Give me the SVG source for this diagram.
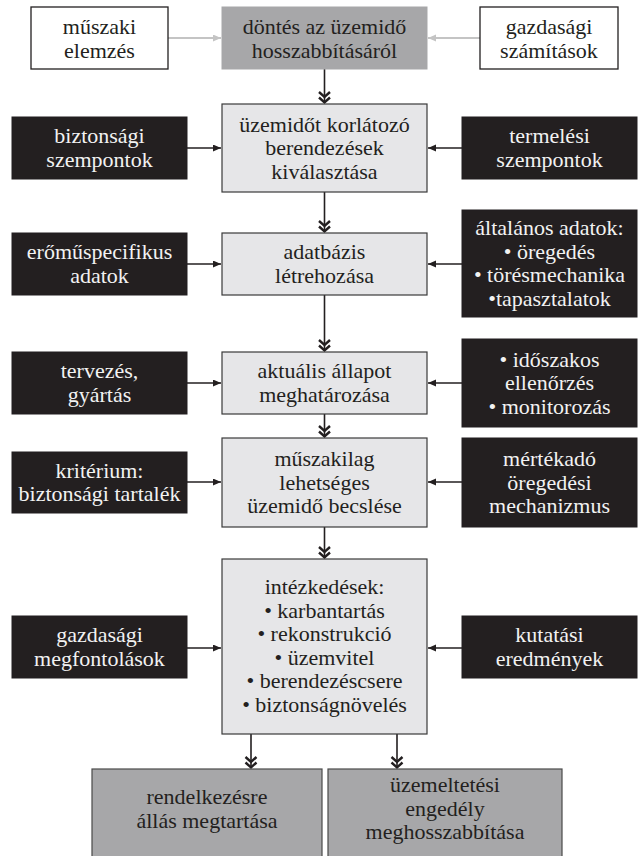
<svg xmlns="http://www.w3.org/2000/svg" width="641" height="856" viewBox="0 0 641 856" font-family="Liberation Serif">
<style>
text{font-family:"Liberation Serif",serif;font-size:22px;text-anchor:middle;fill:#231f20}
.blk rect{fill:#231f20;stroke:#231f20}
.blk text{fill:#f2f2f2}
.wht rect{fill:#fff;stroke:#231f20;stroke-width:1.3}
.lgt rect{fill:#e6e6e8;stroke:#3a3a3a;stroke-width:1.2}
.drk rect{fill:#a7a7a9;stroke:#a7a7a9}
.bot rect{fill:#a7a7a9;stroke:#4a4a4a;stroke-width:1.2}
.c{stroke:#231f20;stroke-width:1.6;fill:none}
.g{stroke:#c4c4c4;stroke-width:2;fill:none}
</style>
<defs>
<marker id="dbl" markerUnits="userSpaceOnUse" markerWidth="14" markerHeight="14" refX="12" refY="6.5" orient="auto" overflow="visible">
<path d="M1,1 L6,6.5 L1,12 M6.5,1 L11.5,6.5 L6.5,12" fill="none" stroke="#231f20" stroke-width="2.4"/>
</marker>
<marker id="tri" markerUnits="userSpaceOnUse" markerWidth="9" markerHeight="8" refX="8" refY="3.5" orient="auto">
<path d="M0,0 L8,3.5 L0,7 Z" fill="#231f20"/>
</marker>
<marker id="trig" markerUnits="userSpaceOnUse" markerWidth="9" markerHeight="8" refX="8" refY="3.5" orient="auto">
<path d="M0,0 L8,3.5 L0,7 Z" fill="#c4c4c4"/>
</marker>
</defs>

<g id="connectors">
<line class="g" x1="168" y1="38" x2="221" y2="38" marker-end="url(#trig)"/>
<line class="g" x1="480" y1="38" x2="428" y2="38" marker-end="url(#trig)"/>
<line class="c" x1="324.5" y1="69" x2="324.5" y2="103" marker-end="url(#dbl)"/>
<line class="c" x1="324.5" y1="192" x2="324.5" y2="232" marker-end="url(#dbl)"/>
<line class="c" x1="324.5" y1="295" x2="324.5" y2="351" marker-end="url(#dbl)"/>
<line class="c" x1="324.5" y1="414" x2="324.5" y2="437" marker-end="url(#dbl)"/>
<line class="c" x1="324.5" y1="527" x2="324.5" y2="558" marker-end="url(#dbl)"/>
<line class="c" x1="251" y1="734" x2="251" y2="768" marker-end="url(#dbl)"/>
<line class="c" x1="397" y1="734" x2="397" y2="768" marker-end="url(#dbl)"/>
<line class="c" x1="187" y1="148" x2="221" y2="148" marker-end="url(#tri)"/>
<line class="c" x1="462" y1="148" x2="428" y2="148" marker-end="url(#tri)"/>
<line class="c" x1="187" y1="264" x2="221" y2="264" marker-end="url(#tri)"/>
<line class="c" x1="462" y1="264" x2="428" y2="264" marker-end="url(#tri)"/>
<line class="c" x1="187" y1="383" x2="221" y2="383" marker-end="url(#tri)"/>
<line class="c" x1="462" y1="383" x2="428" y2="383" marker-end="url(#tri)"/>
<line class="c" x1="187" y1="482" x2="221" y2="482" marker-end="url(#tri)"/>
<line class="c" x1="462" y1="482" x2="428" y2="482" marker-end="url(#tri)"/>
<line class="c" x1="187" y1="648" x2="221" y2="648" marker-end="url(#tri)"/>
<line class="c" x1="462" y1="648" x2="428" y2="648" marker-end="url(#tri)"/>
</g>

<g id="n1" class="wht"><rect x="31" y="7" width="137" height="62"/><text x="99.5" y="34">műszaki</text><text x="99.5" y="57.5">elemzés</text></g>
<g id="n2" class="drk"><rect x="222" y="7" width="205" height="62"/><text x="324.5" y="34">döntés az üzemidő</text><text x="324.5" y="57.5">hosszabbításáról</text></g>
<g id="n3" class="wht"><rect x="480" y="7" width="138" height="62"/><text x="549" y="34">gazdasági</text><text x="549" y="57.5">számítások</text></g>

<g id="n4" class="blk"><rect x="12" y="117" width="175" height="62"/><text x="99.5" y="143">biztonsági</text><text x="99.5" y="166.5">szempontok</text></g>
<g id="n5" class="lgt"><rect x="222" y="104" width="205" height="88"/><text x="324.5" y="131.5">üzemidőt korlátozó</text><text x="324.5" y="155">berendezések</text><text x="324.5" y="178.5">kiválasztása</text></g>
<g id="n6" class="blk"><rect x="462" y="117" width="175" height="62"/><text x="549.5" y="143">termelési</text><text x="549.5" y="166.5">szempontok</text></g>

<g id="n7" class="blk"><rect x="12" y="233" width="175" height="62"/><text x="99.5" y="259">erőműspecifikus</text><text x="99.5" y="282.5">adatok</text></g>
<g id="n8" class="lgt"><rect x="222" y="233" width="205" height="62"/><text x="324.5" y="259">adatbázis</text><text x="324.5" y="282.5">létrehozása</text></g>
<g id="n9" class="blk"><rect x="462" y="210" width="175" height="107"/><text x="549.5" y="235">általános adatok:</text><text x="549.5" y="258.5">• öregedés</text><text x="549.5" y="282">• törésmechanika</text><text x="549.5" y="305.5">•tapasztalatok</text></g>

<g id="n10" class="blk"><rect x="12" y="352" width="175" height="62"/><text x="99.5" y="378">tervezés,</text><text x="99.5" y="401.5">gyártás</text></g>
<g id="n11" class="lgt"><rect x="222" y="352" width="205" height="62"/><text x="324.5" y="378">aktuális állapot</text><text x="324.5" y="401.5">meghatározása</text></g>
<g id="n12" class="blk"><rect x="462" y="339" width="175" height="88"/><text x="549.5" y="366.5">• időszakos</text><text x="549.5" y="390">ellenőrzés</text><text x="549.5" y="413.5">• monitorozás</text></g>

<g id="n13" class="blk"><rect x="12" y="452" width="175" height="61"/><text x="99.5" y="477.5">kritérium:</text><text x="99.5" y="501">biztonsági tartalék</text></g>
<g id="n14" class="lgt"><rect x="222" y="438" width="205" height="89"/><text x="324.5" y="466">műszakilag</text><text x="324.5" y="489.5">lehetséges</text><text x="324.5" y="513">üzemidő becslése</text></g>
<g id="n15" class="blk"><rect x="462" y="438" width="175" height="89"/><text x="549.5" y="466">mértékadó</text><text x="549.5" y="489.5">öregedési</text><text x="549.5" y="513">mechanizmus</text></g>

<g id="n16" class="blk"><rect x="12" y="616" width="175" height="62"/><text x="99.5" y="642">gazdasági</text><text x="99.5" y="665.5">megfontolások</text></g>
<g id="n17" class="lgt"><rect x="222" y="559" width="205" height="175"/><text x="324.5" y="594">intézkedések:</text><text x="324.5" y="617.5">• karbantartás</text><text x="324.5" y="641">• rekonstrukció</text><text x="324.5" y="664.5">• üzemvitel</text><text x="324.5" y="688">• berendezéscsere</text><text x="324.5" y="711.5">• biztonságnövelés</text></g>
<g id="n18" class="blk"><rect x="462" y="616" width="175" height="62"/><text x="549.5" y="642">kutatási</text><text x="549.5" y="665.5">eredmények</text></g>

<g id="n19" class="bot"><rect x="92" y="769" width="230" height="100"/><text x="207" y="804">rendelkezésre</text><text x="207" y="827.5">állás megtartása</text></g>
<g id="n20" class="bot"><rect x="328" y="769" width="234" height="100"/><text x="445" y="792">üzemeltetési</text><text x="445" y="815.5">engedély</text><text x="445" y="839">meghosszabbítása</text></g>
</svg>
